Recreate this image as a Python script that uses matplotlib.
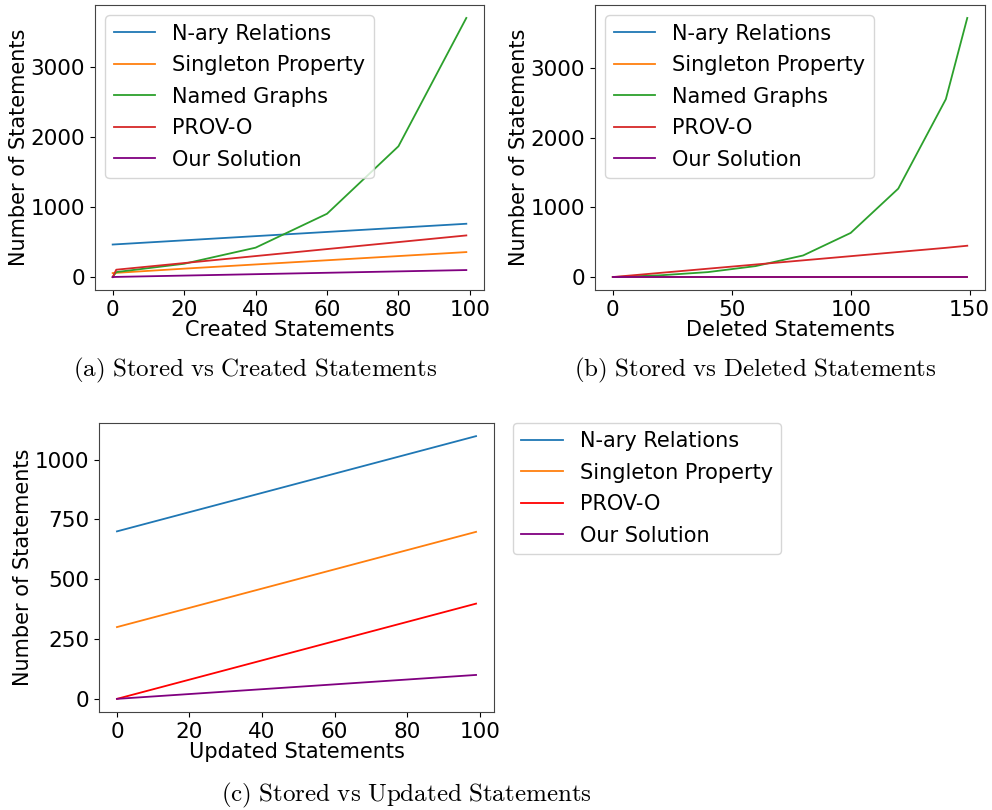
import matplotlib
matplotlib.use("Agg")
import matplotlib.pyplot as plt

plt.rcParams['mathtext.fontset'] = 'cm'

# (a) created statements
created_x = [0, 1, 20, 40, 60, 80, 99]
created_nary = [465, 468, 525, 585, 645, 705, 762]
created_singleton = [57, 60, 120, 180, 240, 300, 357]
created_named = [0, 71, 190, 420, 905, 1870, 3705]
created_provo = [0, 105, 200, 300, 400, 500, 595]
created_ours = [0, 2, 21, 41, 61, 81, 100]

# (b) deleted statements
deleted_x = [0, 20, 40, 60, 80, 100, 120, 140, 149]
deleted_nary = [0, 0, 0, 0, 0, 0, 0, 0, 0]
deleted_singleton = [0, 0, 0, 0, 0, 0, 0, 0, 0]
deleted_named = [0, 25, 71, 157, 310, 634, 1271, 2557, 3724]
deleted_provo = [0, 60, 120, 180, 240, 300, 360, 420, 450]
deleted_ours = [0, 0, 0, 0, 0, 0, 0, 0, 0]

# (c) updated statements
updated_x = [0, 99]
updated_nary = [700, 1098]
updated_singleton = [300, 698]
updated_provo = [0, 398]
updated_ours = [0, 100]

labels = ['N-ary Relations', 'Singleton Property', 'Named Graphs', 'PROV-O', 'Our Solution']

W, H = 992, 810
fig = plt.figure(figsize=(W / 100, H / 100), dpi=100)

def px_axes(left, top, right, bottom):
    return fig.add_axes([left / W, 1 - bottom / H, (right - left) / W, (bottom - top) / H])

def style(ax, xlabel):
    ax.set_xlabel(xlabel, fontsize=15, labelpad=0)
    ax.set_ylabel('Number of Statements', fontsize=15, labelpad=1)
    ax.tick_params(labelsize=15.5)
    for s in ax.spines.values():
        s.set_color('#444444')

lw = 1.3
leg_kw = dict(fontsize=15, handlelength=2.0, labelspacing=0.55)

ax1 = px_axes(95, 5, 484, 290)
ax1.plot(created_x, created_nary, color='tab:blue', lw=lw, label=labels[0])
ax1.plot(created_x, created_singleton, color='tab:orange', lw=lw, label=labels[1])
ax1.plot(created_x, created_named, color='tab:green', lw=lw, label=labels[2])
ax1.plot(created_x, created_provo, color='tab:red', lw=lw, label=labels[3])
ax1.plot(created_x, created_ours, color='purple', lw=lw, label=labels[4])
ax1.set_xticks([0, 20, 40, 60, 80, 100])
ax1.set_yticks([0, 1000, 2000, 3000])
style(ax1, 'Created Statements')
ax1.legend(loc='upper left', borderaxespad=0.5, **leg_kw)

ax2 = px_axes(595, 5, 985, 290)
ax2.plot(deleted_x, deleted_nary, color='tab:blue', lw=lw, label=labels[0])
ax2.plot(deleted_x, deleted_singleton, color='tab:orange', lw=lw, label=labels[1])
ax2.plot(deleted_x, deleted_named, color='tab:green', lw=lw, label=labels[2])
ax2.plot(deleted_x, deleted_provo, color='tab:red', lw=lw, label=labels[3])
ax2.plot(deleted_x, deleted_ours, color='purple', lw=lw, label=labels[4])
ax2.set_xticks([0, 50, 100, 150])
ax2.set_yticks([0, 1000, 2000, 3000])
style(ax2, 'Deleted Statements')
ax2.legend(loc='upper left', borderaxespad=0.5, **leg_kw)

ax3 = px_axes(99, 423, 494, 712)
h1, = ax3.plot(updated_x, updated_nary, color='tab:blue', lw=lw, label=labels[0])
h2, = ax3.plot(updated_x, updated_singleton, color='tab:orange', lw=lw, label=labels[1])
h3, = ax3.plot(updated_x, updated_provo, color='red', lw=lw, label=labels[3])
h4, = ax3.plot(updated_x, updated_ours, color='purple', lw=lw, label=labels[4])
ax3.set_xticks([0, 20, 40, 60, 80, 100])
ax3.set_yticks([0, 250, 500, 750, 1000])
style(ax3, 'Updated Statements')
fig.legend(handles=[h1, h2, h3, h4], loc='upper left', bbox_to_anchor=(513 / W, 1 - 423 / H),
           borderaxespad=0, **leg_kw)

def caption(x, y, text):
    fig.text(x / W, 1 - y / H, text, ha='center', va='center', fontsize=18)

caption(255, 370, r'$\mathrm{(a)\ Stored\ vs\ Created\ Statements}$')
caption(755, 370, r'$\mathrm{(b)\ Stored\ vs\ Deleted\ Statements}$')
caption(406, 795, r'$\mathrm{(c)\ Stored\ vs\ Updated\ Statements}$')

fig.savefig('out.png', dpi=100)
